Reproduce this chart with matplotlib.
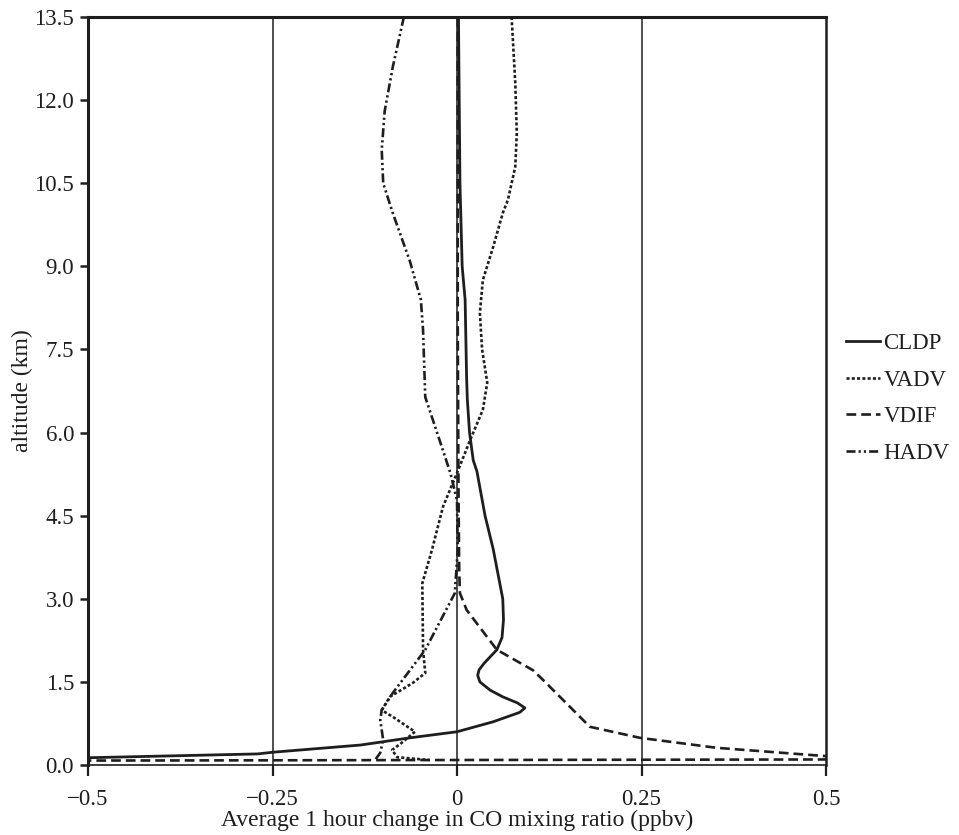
import matplotlib
matplotlib.use("Agg")
import matplotlib.pyplot as plt

plt.rcParams['font.family'] = ['Liberation Serif', 'DejaVu Serif']
plt.rcParams['lines.scale_dashes'] = False

# Altitude profiles (km) and 1-hour CO tendencies (ppbv) for each process
cldp_alt = [13.5, 12.0, 10.5, 9.0, 8.4, 7.0, 6.6, 6.0, 5.5, 5.3, 4.5, 3.9, 3.0,
            2.62, 2.3, 2.08, 1.84, 1.72, 1.62, 1.5, 1.35, 1.23, 1.12, 1.03, 0.95,
            0.78, 0.6, 0.49, 0.36, 0.23, 0.2, 0.05]
cldp_val = [0.002, 0.003, 0.004, 0.007, 0.011, 0.013, 0.014, 0.017, 0.022, 0.027,
            0.038, 0.049, 0.062, 0.063, 0.061, 0.054, 0.037, 0.030, 0.028, 0.031,
            0.045, 0.062, 0.082, 0.092, 0.085, 0.049, 0.0, -0.064, -0.131, -0.25,
            -0.27, -0.77]

vadv_alt = [13.5, 12.3, 11.4, 10.8, 10.2, 9.96, 9.35, 8.75, 8.16, 7.5, 6.9, 6.41,
            5.87, 5.27, 4.66, 3.88, 3.28, 2.08, 1.66, 1.48, 1.23, 0.99, 0.87,
            0.6, 0.4, 0.27, 0.14, 0.09]
vadv_val = [0.074, 0.079, 0.081, 0.079, 0.069, 0.062, 0.049, 0.035, 0.031, 0.034,
            0.041, 0.035, 0.018, 0.0, -0.019, -0.034, -0.047, -0.046, -0.043,
            -0.06, -0.091, -0.102, -0.087, -0.057, -0.075, -0.088, -0.081, -0.037]

vdif_alt = [13.5, 11.0, 8.0, 5.0, 3.5, 3.1, 2.8, 2.5, 2.08, 1.71, 1.53, 0.69, 0.49,
            0.31, 0.16, 0.12, 0.06]
vdif_val = [0.001, 0.001, 0.001, 0.002, 0.003, 0.004, 0.013, 0.03, 0.054, 0.103,
            0.117, 0.18, 0.248, 0.352, 0.5, 1.5, -1.5]

hadv_alt = [13.5, 12.6, 11.8, 11.1, 10.5, 9.96, 9.1, 8.4, 7.85, 6.64, 6.0, 5.27,
            4.78, 3.88, 3.1, 2.08, 1.3, 0.99, 0.81, 0.45, 0.22, 0.09]
hadv_val = [-0.072, -0.087, -0.098, -0.102, -0.1, -0.087, -0.064, -0.049, -0.046,
            -0.043, -0.027, -0.009, 0.0, 0.001, -0.003, -0.043, -0.087, -0.102,
            -0.104, -0.1, -0.104, -0.111]

x_ticks = [-0.5, -0.25, 0, 0.25, 0.5]
x_tick_labels = ['\u22120.5', '\u22120.25', '0', '0.25', '0.5']
y_ticks = [0.0, 1.5, 3.0, 4.5, 6.0, 7.5, 9.0, 10.5, 12.0, 13.5]
y_tick_labels = ['0.0', '1.5', '3.0', '4.5', '6.0', '7.5', '9.0', '10.5', '12.0', '13.5']

ink = '#1e1e1e'

fig = plt.figure(figsize=(9.59, 8.35), dpi=100)
ax = fig.add_axes([88 / 959, 1 - 765 / 835, (826 - 88) / 959, (765 - 17) / 835])

for xv in [-0.25, 0, 0.25]:
    ax.axvline(xv, color=ink, lw=1.1, zorder=1)

ax.plot(cldp_val, cldp_alt, color=ink, lw=2.0, label='CLDP', zorder=3)
ax.plot(vadv_val, vadv_alt, color=ink, lw=1.9, dashes=(2.2, 1.6), label='VADV', zorder=3)
ax.plot(vdif_val, vdif_alt, color=ink, lw=1.9, dashes=(7.0, 3.6), label='VDIF', zorder=3)
ax.plot(hadv_val, hadv_alt, color=ink, lw=1.9, dashes=(6.5, 2.2, 1.6, 2.2, 1.6, 2.2),
        label='HADV', zorder=3)

ax.set_xlim(-0.5, 0.5)
ax.set_ylim(0, 13.5)
ax.set_xticks(x_ticks)
ax.set_xticklabels(x_tick_labels)
ax.set_yticks(y_ticks)
ax.set_yticklabels(y_tick_labels)
ax.tick_params(axis='x', direction='out', length=8, width=1.6, colors=ink,
               labelsize=16.5, pad=9)
ax.tick_params(axis='y', direction='out', length=6, width=1.8, colors=ink,
               labelsize=16.5, pad=4)

for side in ['left', 'top']:
    ax.spines[side].set_linewidth(2.2)
ax.spines['right'].set_linewidth(1.8)
ax.spines['bottom'].set_linewidth(1.2)
for s in ax.spines.values():
    s.set_color(ink)

ax.set_xlabel('Average 1 hour change in CO mixing ratio (ppbv)', fontsize=17,
              color=ink, labelpad=0)
ax.set_ylabel('altitude (km)', fontsize=17, color=ink, labelpad=1)

leg = ax.legend(loc='center left', bbox_to_anchor=(1.005, 0.49), frameon=False,
                fontsize=16.5, handlelength=1.5, handletextpad=0.15,
                labelspacing=0.68, borderaxespad=0.3)
for t in leg.get_texts():
    t.set_color(ink)

fig.savefig('out.png', dpi=100, facecolor='white')
